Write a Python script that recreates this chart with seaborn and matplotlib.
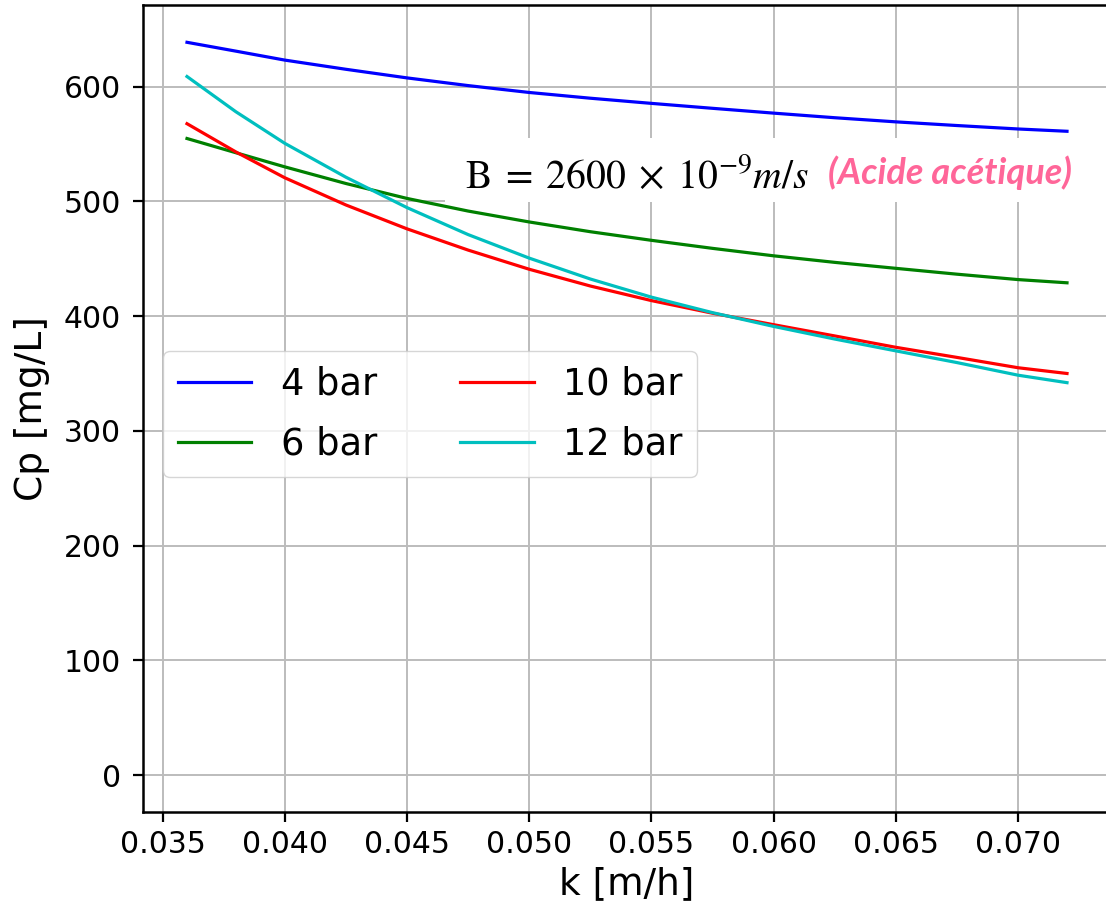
import numpy as np
import pandas as pd
import matplotlib
matplotlib.use("Agg")
import matplotlib.pyplot as plt
import seaborn as sns
from matplotlib.patches import Rectangle

# valeurs
k = [0.036, 0.038, 0.040, 0.0425, 0.045, 0.0475, 0.050, 0.0525,
     0.055, 0.0575, 0.060, 0.0625, 0.065, 0.0675, 0.070, 0.072]
cp_4bar = [638.5, 630.8, 623, 615, 607.5, 600.8, 594.8, 589.8,
           585.3, 581, 576.8, 572.8, 569.2, 566, 563, 561]
cp_6bar = [554.7, 542.3, 530, 515.5, 502.5, 491.5, 482, 473.5,
           466, 459, 452.5, 446.8, 441.6, 436.5, 431.8, 429]
cp_10bar = [567.6, 543, 520.5, 496.8, 476, 457.5, 440.8, 426.2,
            413.5, 402.5, 392.5, 382.7, 372.8, 364, 355, 350]
cp_12bar = [608.7, 578, 550.5, 521, 494.5, 471, 450.5, 432.3,
            416.5, 403, 391, 380, 369.7, 359.5, 348.5, 342]
labels = ["4 bar", "6 bar", "10 bar", "12 bar"]
colors = ["blue", "green", "red", "c"]

df = pd.concat([
    pd.DataFrame({"k": k, "Cp": vals, "P": lab})
    for vals, lab in zip([cp_4bar, cp_6bar, cp_10bar, cp_12bar], labels)
])

plt.rcParams['font.family'] = ['DejaVu Sans']
plt.rcParams['mathtext.fontset'] = 'stix'

fig = plt.figure(figsize=(11.06, 9.09), dpi=100)
ax = fig.add_axes([143 / 1106, 1 - 812 / 909, 968 / 1106, 807 / 909])

sns.lineplot(data=df, x="k", y="Cp", hue="P", hue_order=labels,
             palette=colors, linewidth=2.3, ax=ax, zorder=3)

ax.set_xlim(0.0342, 0.0738)
ax.set_ylim(-32, 671)
ax.set_xticks(np.arange(0.035, 0.0701, 0.005))
ax.set_yticks(range(0, 601, 100))
ax.grid(True, color="#bcbcbc", linewidth=1.4)
ax.set_axisbelow(True)
for s in ax.spines.values():
    s.set_linewidth(1.8)
    s.set_color("black")
ax.tick_params(labelsize=21.5, length=7, width=1.6)
ax.tick_params(axis="y", pad=9)
ax.tick_params(axis="x", pad=6)
ax.set_xlabel("k [m/h]", fontsize=27, labelpad=5)
ax.set_ylabel("Cp [mg/L]", fontsize=27, labelpad=10)

ax.legend(ncol=2, fontsize=26.5, loc="upper left",
          bbox_to_anchor=(163 / 1106, 1 - 351 / 909),
          bbox_transform=fig.transFigure, borderaxespad=0,
          labelspacing=0.62, columnspacing=2.25, framealpha=0.8)

# encadré blanc avec le paramètre B
fig.patches.append(Rectangle((445 / 1106, 1 - 202 / 909), 661 / 1106, 64 / 909,
                             transform=fig.transFigure, facecolor="white",
                             edgecolor="none", zorder=2.5))
fig.text(465 / 1106, 1 - 188 / 909,
         r"$\mathrm{B}\;=\;2600\;\times\;10^{-9}m/s$",
         fontsize=28.5, color="black", zorder=4)
fig.text(1072 / 1106, 1 - 184 / 909, "(Acide acétique)", ha="right",
         fontsize=26, fontweight="bold", fontstyle="italic",
         family=["Lato", "DejaVu Sans"], color="#ff6699", zorder=4)

fig.savefig("out.png", dpi=100)
